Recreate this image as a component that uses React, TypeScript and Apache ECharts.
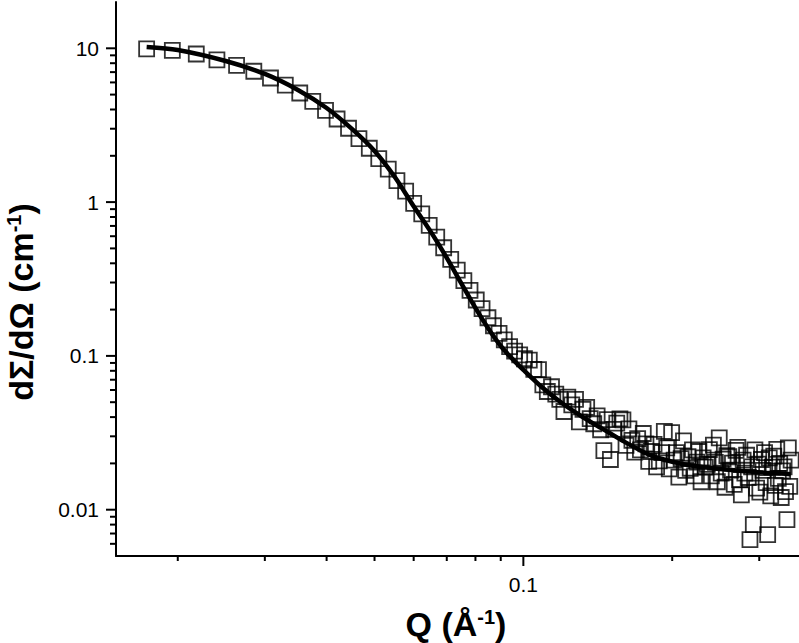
import React, { useEffect, useRef } from "react";
import * as echarts from "echarts";

const qData = [
  0.0173, 0.0195, 0.0218, 0.0240, 0.0263, 0.0285, 0.0308, 0.0330, 0.0353, 0.0375,
  0.0398, 0.0420, 0.0443, 0.0465, 0.0488, 0.0510, 0.0533, 0.0555, 0.0578, 0.0600,
  0.0623, 0.0645, 0.0668, 0.0690, 0.0713, 0.0735, 0.0758, 0.0780, 0.0803, 0.0825,
  0.0848, 0.0870, 0.0893, 0.0915, 0.0938, 0.0960, 0.0983, 0.1005, 0.1028, 0.1050,
  0.1073, 0.1095, 0.1118, 0.1140, 0.1163, 0.1185, 0.1208, 0.1230, 0.1253, 0.1275,
  0.1298, 0.1320, 0.1343, 0.1365, 0.1388, 0.1410, 0.1433, 0.1455, 0.1478, 0.1500,
  0.1523, 0.1545, 0.1568, 0.1590, 0.1613, 0.1635, 0.1658, 0.1680, 0.1703, 0.1725,
  0.1748, 0.1770, 0.1793, 0.1815, 0.1838, 0.1860, 0.1883, 0.1905, 0.1928, 0.1950,
  0.1973, 0.1995, 0.2018, 0.2040, 0.2063, 0.2085, 0.2108, 0.2130, 0.2153, 0.2175,
  0.2198, 0.2220, 0.2243, 0.2265, 0.2288, 0.2310, 0.2333, 0.2355, 0.2378, 0.2400,
  0.2423, 0.2445, 0.2468, 0.2490, 0.2513, 0.2535, 0.2558, 0.2580, 0.2603, 0.2625,
  0.2648, 0.2670, 0.2693, 0.2715, 0.2738, 0.2760, 0.2783, 0.2805, 0.2828, 0.2850,
  0.2873, 0.2895, 0.2918, 0.2940, 0.2963, 0.2985, 0.3008, 0.3030, 0.3053, 0.3075,
  0.3098, 0.3120, 0.3143, 0.3165, 0.3188, 0.3210, 0.3233, 0.3255, 0.3278, 0.3300,
  0.3323, 0.3345, 0.3368, 0.3390, 0.3413, 0.3435, 0.3458, 0.3480,
];

const iData = [
  9.90, 9.68, 9.18, 8.40, 7.75, 7.09, 6.41, 5.77, 5.12, 4.52,
  3.95, 3.47, 3.02, 2.59, 2.24, 1.92, 1.64, 1.38, 1.18, 0.981,
  0.838, 0.705, 0.592, 0.505, 0.424, 0.361, 0.309, 0.267, 0.231, 0.203,
  0.177, 0.157, 0.140, 0.127, 0.115, 0.1075, 0.1014, 0.0958, 0.0939, 0.0818,
  0.0814, 0.0648, 0.0587, 0.0630, 0.0565, 0.0522, 0.0435, 0.0540, 0.0481, 0.0521,
  0.0372, 0.0450, 0.0463, 0.0391, 0.0362, 0.0408, 0.0331, 0.0242, 0.0385, 0.0212,
  0.0333, 0.0365, 0.0389, 0.0384, 0.0262, 0.0335, 0.0282, 0.0237, 0.0290, 0.0245,
  0.0313, 0.0268, 0.0206, 0.0239, 0.0266, 0.0190, 0.0208, 0.0235, 0.0323, 0.0252,
  0.0184, 0.0317, 0.0210, 0.0235, 0.0163, 0.0215, 0.0280, 0.0180, 0.0221, 0.0186,
  0.0245, 0.0166, 0.0204, 0.0239, 0.0152, 0.0217, 0.0189, 0.0197, 0.0246, 0.0166,
  0.0263, 0.0203, 0.0152, 0.0293, 0.0173, 0.0213, 0.0140, 0.0225, 0.0221, 0.0181,
  0.0201, 0.0146, 0.0243, 0.0254, 0.0157, 0.0125, 0.0210, 0.0173, 0.0226, 0.0162,
  0.00638, 0.0190, 0.00799, 0.0245, 0.0138, 0.0198, 0.0130, 0.0212, 0.0180, 0.0235,
  0.0150, 0.00688, 0.0217, 0.0123, 0.0189, 0.0223, 0.0144, 0.0247, 0.0160, 0.0200,
  0.0120, 0.0179, 0.0190, 0.0131, 0.00861, 0.0252, 0.0142, 0.0210,
];

const qFit = [
  0.0173, 0.02, 0.025, 0.03, 0.035, 0.04, 0.045, 0.05, 0.055, 0.06,
  0.065, 0.07, 0.075, 0.08, 0.085, 0.09, 0.095, 0.1, 0.11, 0.12,
  0.13, 0.14, 0.15, 0.16, 0.18, 0.2, 0.22, 0.25, 0.28, 0.31, 0.34, 0.347,
];
const iFit = [
  10.2, 9.75, 8.27, 6.81, 5.36, 4.09, 2.99, 2.15, 1.45, 0.939,
  0.640, 0.434, 0.294, 0.205, 0.150, 0.116, 0.0957, 0.0812, 0.0611, 0.0490,
  0.0412, 0.0356, 0.0313, 0.0277, 0.0227, 0.0205, 0.0193, 0.0184, 0.0178, 0.0174, 0.0171, 0.0170,
];

const xMajorTicks = [0.1];
const xTickLabels = ["0.1"];
const xMinorTicks = [0.02, 0.03, 0.04, 0.05, 0.06, 0.07, 0.08, 0.09, 0.2, 0.3];
const yMajorTicks = [0.01, 0.1, 1, 10];
const yTickLabels = ["0.01", "0.1", "1", "10"];
const yMinorTicks = [
  0.006, 0.007, 0.008, 0.009,
  0.02, 0.03, 0.04, 0.05, 0.06, 0.07, 0.08, 0.09,
  0.2, 0.3, 0.4, 0.5, 0.6, 0.7, 0.8, 0.9,
  2, 3, 4, 5, 6, 7, 8, 9,
];

const X_MIN = 0.015;
const X_MAX = 0.361;
const Y_MIN = 0.005;
const Y_MAX = 20;

const FONT = "Liberation Sans, Arial, sans-serif";

function labelFor(v: number, ticks: number[], labels: string[]) {
  for (let i = 0; i < ticks.length; i++) {
    if (Math.abs(Math.log10(v) - Math.log10(ticks[i])) < 1e-6) return labels[i];
  }
  return "";
}

export default function App() {
  const ref = useRef<HTMLDivElement>(null);
  useEffect(() => {
    if (!ref.current) return;
    const chart = echarts.init(ref.current, null, { renderer: "svg" });
    const scatter = qData.map((q, i) => [q, iData[i]]);
    const fit = qFit.map((q, i) => [q, iFit[i]]);
    const xt = [
      ...xMinorTicks.map((v) => [v, Y_MIN, 0]),
      ...xMajorTicks.map((v) => [v, Y_MIN, 1]),
    ];
    const yt = [
      ...yMinorTicks.map((v) => [X_MIN, v, 0]),
      ...yMajorTicks.map((v) => [X_MIN, v, 1]),
    ];
    const tickStyle = { stroke: "#000", lineWidth: 2 };
    chart.setOption({
      animation: false,
      backgroundColor: "#fff",
      grid: { left: 116, top: 2, right: 0, bottom: 87, containLabel: false, outerBoundsMode: "none" },
      xAxis: {
        type: "log",
        logBase: 10,
        min: X_MIN,
        max: X_MAX,
        axisLine: { show: true, lineStyle: { color: "#000", width: 2 } },
        axisTick: { show: false },
        minorTick: { show: false },
        splitLine: { show: false },
        axisLabel: {
          show: true,
          margin: 18,
          color: "#000",
          fontSize: 21,
          fontFamily: FONT,
          showMinLabel: true,
          showMaxLabel: true,
          hideOverlap: false,
          formatter: (v: number) => labelFor(v, xMajorTicks, xTickLabels),
        },
      },
      yAxis: {
        type: "log",
        logBase: 10,
        min: Y_MIN,
        max: Y_MAX,
        axisLine: { show: true, lineStyle: { color: "#000", width: 2 } },
        axisTick: { show: false },
        minorTick: { show: false },
        splitLine: { show: false },
        axisLabel: {
          show: true,
          margin: 17,
          color: "#000",
          fontSize: 21,
          fontFamily: FONT,
          hideOverlap: false,
          formatter: (v: number) => labelFor(v, yMajorTicks, yTickLabels),
        },
      },
      series: [
        {
          type: "scatter",
          data: scatter,
          symbol: "rect",
          symbolSize: 15,
          itemStyle: { color: "rgba(0,0,0,0)", borderColor: "#000", borderWidth: 1.8 },
          z: 2,
        },
        {
          type: "line",
          data: fit,
          showSymbol: false,
          symbol: "none",
          smooth: 0.3,
          lineStyle: { color: "#000", width: 4.5 },
          z: 3,
        },
        {
          type: "custom",
          data: xt,
          encode: { x: 0, y: 1 },
          clip: false,
          silent: true,
          z: 5,
          renderItem: (params: any, api: any) => {
            const p = api.coord([api.value(0), Y_MIN]);
            const len = api.value(2) ? 10 : 5;
            return {
              type: "line",
              shape: { x1: p[0], y1: p[1], x2: p[0], y2: p[1] + len },
              style: tickStyle,
            };
          },
        },
        {
          type: "custom",
          data: yt,
          encode: { x: 0, y: 1 },
          clip: false,
          silent: true,
          z: 5,
          renderItem: (params: any, api: any) => {
            const p = api.coord([X_MIN, api.value(1)]);
            const len = api.value(2) ? 10 : 6;
            return {
              type: "line",
              shape: { x1: p[0] - len, y1: p[1], x2: p[0], y2: p[1] },
              style: tickStyle,
            };
          },
        },
      ],
      graphic: [
        {
          type: "text",
          x: 456,
          y: 624,
          style: {
            text: "{b|Q (Å}{s|-1}{b|)}",
            align: "center",
            verticalAlign: "middle",
            fill: "#000",
            rich: {
              b: { fontSize: 34, fontWeight: "bold", fontFamily: FONT, fill: "#000" },
              s: { fontSize: 20, fontWeight: "bold", fontFamily: FONT, fill: "#000", verticalAlign: "top" },
            },
          },
        },
        {
          type: "text",
          x: 21,
          y: 302,
          rotation: Math.PI / 2,
          style: {
            text: "{b|dΣ/dΩ (cm}{s|-1}{b|)}",
            align: "center",
            verticalAlign: "middle",
            fill: "#000",
            rich: {
              b: { fontSize: 34, fontWeight: "bold", fontFamily: FONT, fill: "#000" },
              s: { fontSize: 20, fontWeight: "bold", fontFamily: FONT, fill: "#000", verticalAlign: "top" },
            },
          },
        },
      ],
    });
    return () => chart.dispose();
  }, []);
  return (
    <div
      ref={ref}
      style={{ position: "fixed", left: 0, top: 0, width: 799, height: 643, background: "#fff" }}
    />
  );
}
